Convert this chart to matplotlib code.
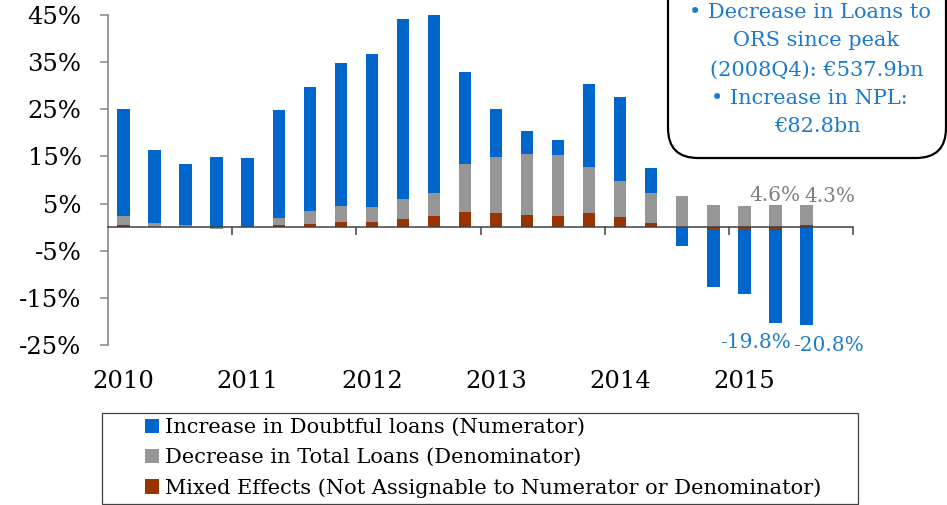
import matplotlib
matplotlib.use("Agg")
import matplotlib.pyplot as plt
import numpy as np
from matplotlib.patches import Rectangle, FancyBboxPatch, Patch
from matplotlib.transforms import IdentityTransform

plt.rcParams['font.family'] = ['DejaVu Serif', 'Liberation Serif']

# ---- data (percent contributions, quarterly 2010Q1 .. 2015Q3) ----
year_labels = ['2010', '2011', '2012', '2013', '2014', '2015']
n_categories = 24  # 2010Q1 .. 2015Q4 (last quarter empty)

doubtful = [22.7, 15.4, 12.9, 14.8, 14.5, 22.8, 26.4, 30.4, 32.6, 38.3, 37.6, 19.7,
            10.1, 4.8, 3.1, 17.7, 18.0, 5.3, -3.9, -12.4, -13.7, -19.8, -20.8]
total_loans = [1.9, 0.8, 0.4, -0.5, 0.1, 1.6, 2.7, 3.3, 3.1, 4.2, 4.9, 10.1,
               11.9, 13.0, 13.0, 9.7, 7.6, 6.4, 6.5, 4.7, 4.4, 4.6, 4.3]
mixed = [0.4, 0.1, 0.0, 0.0, 0.0, 0.4, 0.7, 1.1, 1.1, 1.7, 2.4, 3.2,
         3.0, 2.5, 2.3, 3.0, 2.1, 0.8, 0.0, -0.4, -0.5, -0.6, 0.5]

series_names = ['Increase in Doubtful loans (Numerator)',
                'Decrease in Total Loans (Denominator)',
                'Mixed Effects (Not Assignable to Numerator or Denominator)']
colors = ['#0066CC', '#969696', '#993300']

box_lines = ['• Decrease in Loans to', 'ORS since peak', '(2008Q4): €537.9bn',
             '• Increase in NPL:', '€82.8bn']

W, H = 947, 505
fig = plt.figure(figsize=(W / 100, H / 100), dpi=100)
ax = fig.add_axes([108 / W, 160 / H, (853 - 108) / W, (490 - 160) / H])

x = np.arange(len(doubtful))
pos_bottom = np.zeros(len(x))
neg_bottom = np.zeros(len(x))
# stacking order from the axis outward: mixed, total loans, doubtful
for vals, col in [(mixed, colors[2]), (total_loans, colors[1]), (doubtful, colors[0])]:
    v = np.array(vals, dtype=float)
    bottom = np.where(v >= 0, pos_bottom, neg_bottom)
    ax.bar(x, v, width=0.4, bottom=bottom, color=col, edgecolor='none', zorder=2)
    pos_bottom = pos_bottom + np.where(v >= 0, v, 0)
    neg_bottom = neg_bottom + np.where(v < 0, v, 0)

ax.set_xlim(-0.5, n_categories - 0.5)
ax.set_ylim(-25, 45)
ax.set_yticks(np.arange(-25, 46, 10))
ax.set_yticklabels([f'{t}%' for t in np.arange(-25, 46, 10)])
ax.tick_params(axis='y', direction='out', length=6, width=1.1, color='#868686',
               pad=13, labelsize=17.5, labelcolor='black')

for s in ['top', 'right']:
    ax.spines[s].set_visible(False)
ax.spines['left'].set_color('#868686')
ax.spines['left'].set_linewidth(1.2)
ax.spines['bottom'].set_position(('data', 0))
ax.spines['bottom'].set_color('#404040')
ax.spines['bottom'].set_linewidth(1.1)
ax.set_xticks(np.arange(3.5, n_categories, 4))
ax.tick_params(axis='x', direction='out', length=6, width=1.1, color='#404040',
               labelbottom=False)

secax = ax.secondary_xaxis('bottom')
secax.set_xticks(np.arange(0, n_categories, 4), year_labels)
secax.tick_params(length=0, pad=18, labelsize=17.5)
secax.spines['bottom'].set_visible(False)

# data labels on the last two quarters
lab_gray = '#7f7f7f'
lab_blue = '#1f7bc9'
tops = pos_bottom
bots = neg_bottom
fs_lab = 14.5
ax.annotate(f'{total_loans[21]:.1f}%', (x[21], tops[21]), xytext=(0, 7.5),
            textcoords='offset points', ha='center', va='center',
            fontsize=fs_lab, color=lab_gray)
ax.annotate(f'{total_loans[22]:.1f}%', (x[22], tops[22]), xytext=(17, 6),
            textcoords='offset points', ha='center', va='center',
            fontsize=fs_lab, color=lab_gray)
ax.annotate(f'{doubtful[21]:.1f}%', (x[21], bots[21]), xytext=(-14, -13.5),
            textcoords='offset points', ha='center', va='center',
            fontsize=fs_lab, color=lab_blue)
ax.annotate(f'{doubtful[22]:.1f}%', (x[22], bots[22]), xytext=(16, -14.5),
            textcoords='offset points', ha='center', va='center',
            fontsize=fs_lab, color=lab_blue)

# legend with its own frame
fig.patches.append(Rectangle((101.5 / W, 1 / H), (858 - 101.5) / W, (504 - 413) / H,
                             transform=fig.transFigure, fill=False,
                             edgecolor='#404040', linewidth=0.9))
handles = [Patch(facecolor=c, edgecolor='none') for c in colors]
fig.legend(handles, series_names, loc='center left',
           bbox_to_anchor=(145 / W, 1 - 458 / H), frameon=False, fontsize=15.0,
           borderpad=0, borderaxespad=0, handlelength=0.67, handleheight=0.67,
           handletextpad=0.3, labelspacing=0.53)

# rounded text box (top right)
box = FancyBboxPatch((668, H - 158), 278, 250, boxstyle='round,pad=0,rounding_size=30',
                     transform=IdentityTransform(), facecolor='white',
                     edgecolor='black', linewidth=1.6, zorder=5)
fig.patches.append(box)
line_y = [12, 40, 70, 98, 127]
line_x = [810, 816, 817, 809, 817]
for txt, xx, yy in zip(box_lines, line_x, line_y):
    fig.text(xx / W, 1 - yy / H, txt, ha='center', va='center', fontsize=15.0,
             color='#1a7ad0', zorder=6)

fig.savefig('out.png', dpi=100)
